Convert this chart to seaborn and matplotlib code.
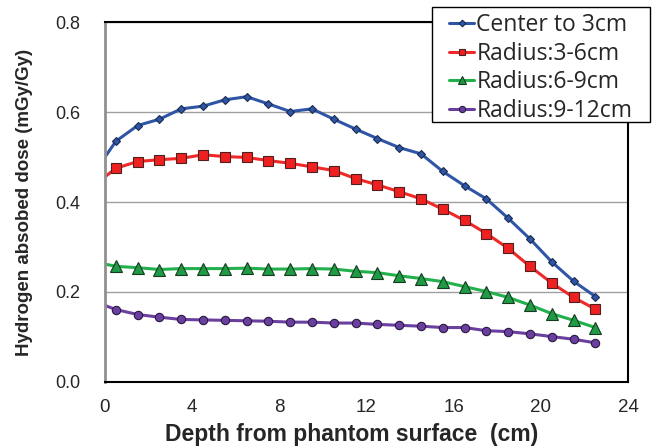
import matplotlib
matplotlib.use("Agg")
import matplotlib.pyplot as plt
import seaborn as sns
import pandas as pd
from matplotlib.patches import Rectangle

depth = [0, 0.5, 1.5, 2.5, 3.5, 4.5, 5.5, 6.5, 7.5, 8.5, 9.5, 10.5, 11.5,
         12.5, 13.5, 14.5, 15.5, 16.5, 17.5, 18.5, 19.5, 20.5, 21.5, 22.5]
center = [0.500, 0.535, 0.570, 0.584, 0.607, 0.613, 0.627, 0.634, 0.618, 0.601,
          0.607, 0.584, 0.562, 0.541, 0.521, 0.507, 0.468, 0.436, 0.407, 0.364,
          0.318, 0.267, 0.224, 0.190]
r3_6 = [0.456, 0.475, 0.490, 0.494, 0.497, 0.505, 0.501, 0.499, 0.492, 0.486,
        0.478, 0.470, 0.452, 0.438, 0.423, 0.407, 0.384, 0.359, 0.330, 0.297,
        0.257, 0.220, 0.188, 0.162]
r6_9 = [0.262, 0.257, 0.254, 0.250, 0.252, 0.252, 0.252, 0.253, 0.251, 0.251,
        0.252, 0.251, 0.246, 0.243, 0.236, 0.230, 0.223, 0.212, 0.201, 0.188,
        0.171, 0.152, 0.137, 0.121]
r9_12 = [0.170, 0.161, 0.150, 0.144, 0.139, 0.138, 0.137, 0.136, 0.135, 0.133,
         0.133, 0.131, 0.131, 0.128, 0.126, 0.124, 0.121, 0.121, 0.114, 0.112,
         0.107, 0.101, 0.095, 0.087]
labels = ["Center to 3cm", "Radius:3-6cm", "Radius:6-9cm", "Radius:9-12cm"]
x_ticks = [0, 4, 8, 12, 16, 20, 24]
y_ticks = [0.0, 0.2, 0.4, 0.6, 0.8]

sns.set_theme(style="white")
plt.rcParams['font.family'] = ['Liberation Sans', 'DejaVu Sans']

W, H = 656, 448
fig = plt.figure(figsize=(6.56, 4.48), dpi=100)
ax = fig.add_axes([105 / W, 1 - 382 / H, 523 / W, 360 / H])

series = [center, r3_6, r6_9, r9_12]
styles = [
    dict(color="#2f56a6", marker="D", ms=4.5, mfc="#2f56a6", mec="#1a2a50"),
    dict(color="#f02828", marker="s", ms=6.5, mfc="#ee2020", mec="#502020"),
    dict(color="#22b04c", marker="^", ms=8, mfc="#1f9a45", mec="#153a20"),
    dict(color="#6a3fa0", marker="o", ms=6, mfc="#6a3fa0", mec="#2a1a40"),
]
for vals, lab, st in zip(series, labels, styles):
    df = pd.DataFrame({"depth": depth, "dose": vals})
    sns.lineplot(data=df, x="depth", y="dose", ax=ax, label=lab,
                 color=st["color"], marker=st["marker"], markersize=st["ms"],
                 markerfacecolor=st["mfc"], markeredgecolor=st["mec"],
                 markeredgewidth=0.8, linewidth=2.2,
                 markevery=list(range(1, len(depth))))

ax.set_xlim(0, 24)
ax.set_ylim(0, 0.8)
ax.set_xticks(x_ticks)
ax.set_yticks(y_ticks)
ax.set_xticklabels([str(t) for t in x_ticks], fontsize=13.5)
ax.set_yticklabels([f"{t:.1f}" for t in y_ticks], fontsize=13)
ax.tick_params(axis="x", direction="in", length=4, color="#999999", pad=12)
ax.tick_params(axis="y", length=0, pad=18)
ax.grid(axis="y", color="#a0a0a0", linewidth=1.0)
ax.grid(axis="x", visible=False)

for side in ["top", "right", "bottom"]:
    ax.spines[side].set_color("black")
    ax.spines[side].set_linewidth(1.5)
ax.spines["left"].set_color("#909090")
ax.spines["left"].set_linewidth(2)

ax.set_xlabel("Depth from phantom surface  (cm)", fontsize=16.5, fontweight="bold")
ax.xaxis.set_label_coords((352 - 105) / 523, -(434 - 382) / 360, transform=ax.transAxes)
ax.xaxis.label.set_va("center")
ax.set_ylabel("Hydrogen absobed dose (mGy/Gy)", fontsize=13.5, fontweight="bold")
ax.yaxis.set_label_coords(-(105 - 25) / 523, 0.5, transform=ax.transAxes)
ax.yaxis.label.set_va("center")

handles, labs = ax.get_legend_handles_labels()
ax.get_legend().remove()

# legend frame box (Excel-style wide box)
box = Rectangle((432 / W, 1 - 122 / H), 218 / W, 115 / H, transform=fig.transFigure,
                facecolor="white", edgecolor="black", linewidth=1.0, zorder=3)
fig.patches.append(box)

leg = fig.legend(handles, labs, loc="upper left",
                 bbox_to_anchor=(449 / W, 1 - 13 / H),
                 bbox_transform=fig.transFigure, frameon=False,
                 handlelength=1.1, handletextpad=0.1, markerscale=0.75,
                 borderpad=0, labelspacing=0.2, borderaxespad=0,
                 prop={"family": ["Open Sans", "DejaVu Sans"], "size": 16.5})
leg.set_zorder(5)

fig.savefig("out.png", dpi=100)
